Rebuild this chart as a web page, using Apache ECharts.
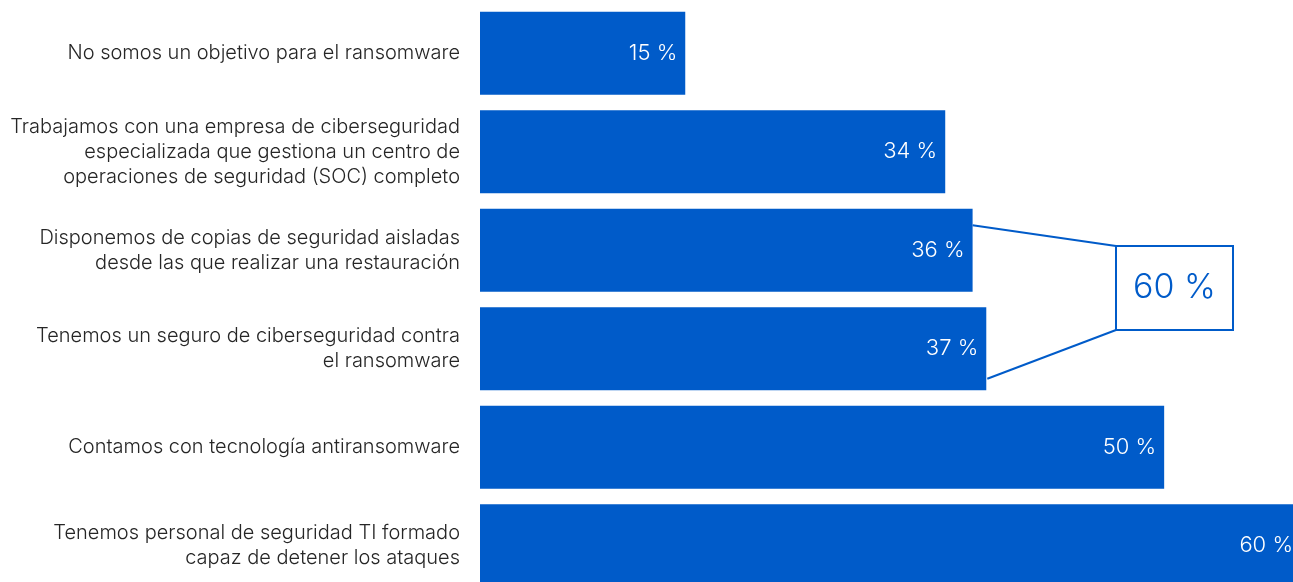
<!DOCTYPE html>
<html>
<head>
<meta charset="utf-8">
<style>
  html, body { margin: 0; padding: 0; background: #ffffff; }
  #chart { width: 1293px; height: 582px; }
</style>
<script src="https://cdn.jsdelivr.net/npm/echarts@6/dist/echarts.min.js"></script>
</head>
<body>
<div id="chart"></div>
<script>
// Measures against ransomware, share of respondents (%)
const categories = [
  'No somos un objetivo para el ransomware',
  'Trabajamos con una empresa de ciberseguridad\nespecializada que gestiona un centro de\noperaciones de seguridad (SOC) completo',
  'Disponemos de copias de seguridad aisladas\ndesde las que realizar una restauración',
  'Tenemos un seguro de ciberseguridad contra\nel ransomware',
  'Contamos con tecnología antiransomware',
  'Tenemos personal de seguridad TI formado\ncapaz de detener los ataques'
];
const values = [15, 34, 36, 37, 50, 60];
// Combined share highlighted for the backup + insurance rows
const calloutRows = [2, 3];
const calloutText = '60 %';

const BLUE = '#005BC9';
const FONT = 'Inter, "Noto Sans", sans-serif';

const chart = echarts.init(document.getElementById('chart'), null, { renderer: 'canvas' });

chart.setOption({
  animation: false,
  grid: { left: 480, top: 4, width: 821, height: 591, containLabel: false, outerBoundsMode: 'none' },
  xAxis: {
    type: 'value', min: 0, max: 60,
    show: false
  },
  yAxis: {
    type: 'category',
    data: categories,
    inverse: true,
    axisLine: { show: false },
    axisTick: { show: false },
    splitLine: { show: false },
    axisLabel: {
      margin: 20,
      color: '#262626',
      fontFamily: FONT,
      fontSize: 20,
      fontWeight: 300,
      lineHeight: 25,
      align: 'right'
    }
  },
  series: [{
    type: 'bar',
    data: values,
    barWidth: 83,
    itemStyle: { color: BLUE },
    label: {
      show: true,
      position: 'insideRight',
      distance: 8,
      color: '#ffffff',
      fontFamily: FONT,
      fontSize: 22,
      fontWeight: 300,
      formatter: p => p.value + ' %'
    }
  }]
});

// Callout box joined to the ends of the two highlighted bars
function drawCallout() {
  const a = chart.convertToPixel({ gridIndex: 0 }, [values[calloutRows[0]], calloutRows[0]]);
  const b = chart.convertToPixel({ gridIndex: 0 }, [values[calloutRows[1]], calloutRows[1]]);
  const box = { x: 1116, y: 246, w: 117, h: 84 };
  chart.setOption({
    graphic: [
      {
        type: 'line', z: 10,
        shape: { x1: a[0], y1: a[1] - 25, x2: box.x, y2: box.y },
        style: { stroke: BLUE, lineWidth: 2 }
      },
      {
        type: 'line', z: 10,
        shape: { x1: b[0] + 1, y1: b[1] + 30, x2: box.x, y2: box.y + box.h },
        style: { stroke: BLUE, lineWidth: 2 }
      },
      {
        type: 'rect', z: 10,
        shape: { x: box.x, y: box.y, width: box.w, height: box.h },
        style: { fill: '#ffffff', stroke: BLUE, lineWidth: 2 }
      },
      {
        type: 'text', z: 11,
        x: box.x + box.w / 2, y: box.y + box.h / 2,
        style: {
          text: calloutText,
          fill: BLUE,
          font: '300 34px ' + FONT,
          align: 'center',
          verticalAlign: 'middle'
        }
      }
    ]
  });
}
drawCallout();
</script>
</body>
</html>
